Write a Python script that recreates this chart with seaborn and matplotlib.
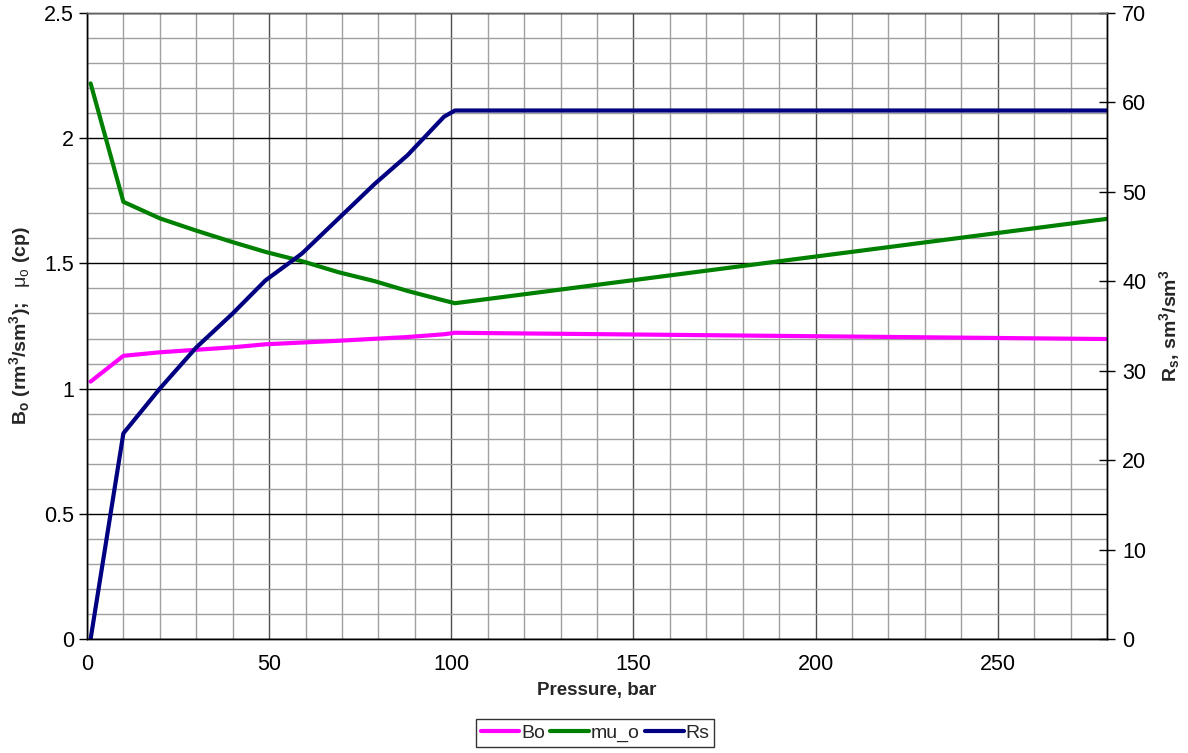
import matplotlib
matplotlib.use("Agg")
import matplotlib.pyplot as plt
import seaborn as sns
import pandas as pd
from matplotlib.ticker import MultipleLocator

# ---- data ----
pressure = [1, 10, 20, 30, 40, 49, 59, 69, 79, 88, 98, 101, 280]
bo = [1.028, 1.131, 1.145, 1.155, 1.165, 1.177, 1.184, 1.191, 1.199, 1.206, 1.217, 1.223, 1.198]
mu_o = [2.219, 1.746, 1.680, 1.631, 1.585, 1.546, 1.509, 1.465, 1.429, 1.390, 1.352, 1.341, 1.678]
rs = [0.0, 23.0, 28.0, 32.6, 36.4, 40.1, 43.1, 47.0, 50.9, 54.1, 58.4, 59.1, 59.1]

df = pd.DataFrame({"Pressure": pressure, "Bo": bo, "mu_o": mu_o, "Rs": rs})

sns.set_theme(style="white")
plt.rcParams["font.family"] = ["Liberation Sans", "DejaVu Sans"]
plt.rcParams["mathtext.fontset"] = "custom"
plt.rcParams["mathtext.rm"] = "Liberation Sans"
plt.rcParams["mathtext.bf"] = "Liberation Sans:bold"
plt.rcParams["mathtext.it"] = "Liberation Sans:italic"

fig = plt.figure(figsize=(11.88, 7.53), dpi=100)
ax = fig.add_axes([0.0732, 0.1514, 0.8586, 0.8313])
ax2 = ax.twinx()

lw = 3.0
sns.lineplot(data=df, x="Pressure", y="Bo", ax=ax, color="#FF00FF", lw=lw, label="Bo", legend=False)
sns.lineplot(data=df, x="Pressure", y="mu_o", ax=ax, color="#008000", lw=lw, label="mu_o", legend=False)
sns.lineplot(data=df, x="Pressure", y="Rs", ax=ax2, color="#000080", lw=lw, label="Rs", legend=False)

ax.set_xlim(0, 280)
ax.set_ylim(0, 2.5)
ax2.set_ylim(0, 70)

ax.xaxis.set_major_locator(MultipleLocator(50))
ax.xaxis.set_minor_locator(MultipleLocator(10))
ax.yaxis.set_major_locator(MultipleLocator(0.5))
ax.yaxis.set_minor_locator(MultipleLocator(0.1))
ax2.yaxis.set_major_locator(MultipleLocator(10))

ax.set_axisbelow(True)
ax.grid(which="minor", color="#a0a0a0", lw=1.0)
ax.grid(which="major", axis="x", color="#505050", lw=1.0)
ax.grid(which="major", axis="y", color="#000000", lw=1.0)

def fmt(v, pos):
    return f"{v:g}"
ax.yaxis.set_major_formatter(plt.FuncFormatter(fmt))

ax.tick_params(axis="both", which="major", direction="out", length=6, width=1,
               colors="black", labelsize=15.5, labelcolor="black")
ax.tick_params(axis="both", which="minor", length=0)
ax.tick_params(axis="x", pad=5)
ax2.tick_params(axis="y", which="major", direction="inout", length=12, width=1,
                labelsize=15.5, labelcolor="black", colors="black", pad=5)

for a in (ax, ax2):
    for s in ("left", "bottom", "right"):
        a.spines[s].set_color("black")
        a.spines[s].set_linewidth(1.0)
    a.spines["top"].set_color("#606060")
    a.spines["top"].set_linewidth(1.0)

ax.set_xlabel("Pressure, bar", fontsize=13.5, fontweight="bold", labelpad=5)
ax.set_ylabel(r"$\mathbf{B_o}$ $\mathbf{(rm^3/sm^3);}$  $\mathrm{μ_o}$ $\mathbf{(cp)}$",
              fontsize=14, fontweight="bold", labelpad=8)
ax2.set_ylabel(r"$\mathbf{R_s}$$\mathbf{,}$ $\mathbf{sm^3/sm^3}$", fontsize=14,
               fontweight="bold", labelpad=8)

h1, l1 = ax.get_legend_handles_labels()
h2, l2 = ax2.get_legend_handles_labels()
leg = fig.legend(h1 + h2, l1 + l2, loc="center", bbox_to_anchor=(595 / 1188, 1 - 733 / 753),
                 ncol=3, fontsize=14, frameon=True, fancybox=False, handlelength=2.0,
                 handletextpad=0.1, columnspacing=0.25, borderpad=0.25, borderaxespad=0)
leg.get_frame().set_edgecolor("black")
leg.get_frame().set_linewidth(1.0)

fig.savefig("out.png", dpi=100)
